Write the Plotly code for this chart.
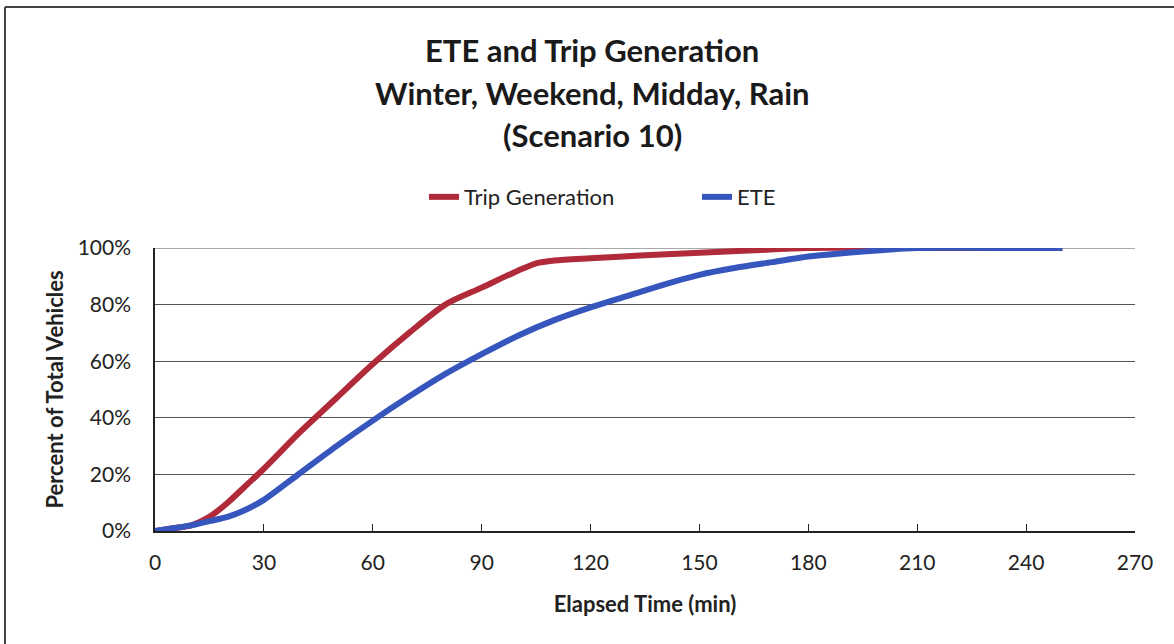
import plotly.graph_objects as go

# Elapsed time (min) and cumulative percent of total vehicles
trip_time = [0, 5, 10, 15, 20, 25, 30, 40, 50, 60, 70, 80, 90, 100, 105, 110, 120, 135, 150, 165, 180, 210, 240, 250]
trip_pct = [0, 1, 2, 5, 10, 16, 22, 35, 47, 59, 70, 80, 86, 92, 94.6, 95.6, 96.4, 97.4, 98.3, 99.2, 100, 100, 100, 100]

ete_time = [0, 5, 10, 15, 20, 25, 30, 40, 50, 60, 70, 80, 90, 100, 110, 120, 130, 140, 150, 160, 170, 180, 190, 200, 210, 240, 250]
ete_pct = [0, 1, 2, 3.5, 5, 7.5, 11, 20.5, 30, 39, 47.5, 55.5, 62.5, 69, 74.5, 79, 83, 87, 90.5, 93, 95, 97, 98.2, 99.2, 100, 100, 100]

x_ticks = [0, 30, 60, 90, 120, 150, 180, 210, 240, 270]
y_ticks = [0, 20, 40, 60, 80, 100]
y_labels = ["0%", "20%", "40%", "60%", "80%", "100%"]

title_lines = ["ETE and Trip Generation", "Winter, Weekend, Midday, Rain", "(Scenario 10)"]

FONT = "Lato"

fig = go.Figure()
# gridline at 100% (drawn as shape so it is visible at the top edge)
fig.add_shape(type="line", xref="paper", yref="y", x0=0, x1=1, y0=100, y1=100,
              line=dict(color="#555", width=1), layer="below")
fig.add_trace(go.Scatter(x=trip_time, y=trip_pct, mode="lines", name="Trip Generation",
                         line=dict(color="#B02A3A", width=6, shape="spline", smoothing=0.8)))
fig.add_trace(go.Scatter(x=ete_time, y=ete_pct, mode="lines", name="ETE",
                         line=dict(color="#3656BE", width=6, shape="spline", smoothing=0.8)))

annotations = []
for txt, yp in zip(title_lines, [1.70, 1.548, 1.399]):
    annotations.append(dict(text=f"<b>{txt}</b>", x=(592 - 155) / 980, y=yp, xref="paper", yref="paper",
                            showarrow=False, xanchor="center", yanchor="middle",
                            font=dict(family=FONT, size=31, color="#1a1a1a")))

fig.update_layout(
    width=1174, height=644,
    margin=dict(l=155, r=39, t=248, b=113),
    paper_bgcolor="white", plot_bgcolor="white",
    font=dict(family=FONT, color="#222"),
    annotations=annotations,
    showlegend=True,
    legend=dict(orientation="h", x=(424 - 155) / 980, xanchor="left", y=1.18, yanchor="middle",
                entrywidth=228, entrywidthmode="pixels",
                font=dict(family=FONT, size=22, color="#222"), bgcolor="rgba(0,0,0,0)"),
    xaxis=dict(range=[0, 270], tickvals=x_ticks, ticks="inside", ticklen=7, tickcolor="#222",
               showline=True, linecolor="#222", linewidth=1.5, showgrid=False, zeroline=False,
               ticklabelstandoff=12,
               tickfont=dict(family=FONT, size=21, color="#222"),
               title=dict(text="<b>Elapsed Time (min)</b>", font=dict(family=FONT, size=22, color="#222"),
                          standoff=24)),
    yaxis=dict(range=[0, 100], tickvals=y_ticks, ticktext=y_labels, ticks="", showline=True,
               linecolor="#222", linewidth=1.5, showgrid=True, gridcolor="#555", gridwidth=1,
               zeroline=False, ticklabelstandoff=18, tickfont=dict(family=FONT, size=21, color="#222"),
               title=dict(text="<b>Percent of Total Vehicles</b>", font=dict(family=FONT, size=22, color="#222"),
                          standoff=8)),
)

# outer chart frame (top and left edges visible)
fig.add_shape(type="line", xref="paper", yref="paper", x0=(5 - 155) / 980, x1=1.1, y0=(531 - 7) / 283,
              y1=(531 - 7) / 283, line=dict(color="#444", width=2))
fig.add_shape(type="line", xref="paper", yref="paper", x0=(5 - 155) / 980, x1=(5 - 155) / 980,
              y0=(531 - 7) / 283, y1=-0.6, line=dict(color="#444", width=2))

fig.write_html("out.html", config={"displayModeBar": False},
               post_script="document.body.style.margin='0';document.body.style.overflow='hidden';")
